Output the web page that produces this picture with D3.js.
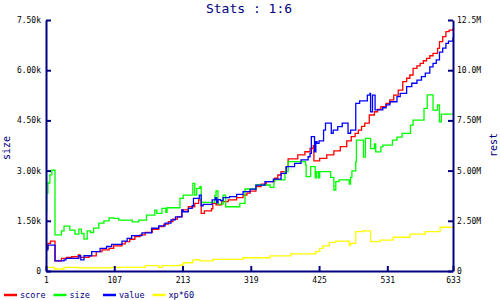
<!DOCTYPE html>
<html>
<head>
<meta charset="utf-8">
<script src="https://cdn.jsdelivr.net/npm/d3@7"></script>
<style>
  body { margin: 0; background: #fff; }
  text { font-family: "DejaVu Sans Mono", monospace; }
</style>
</head>
<body>
<script>
// tick values and labels
const xTicks = [1, 107, 213, 319, 425, 531, 633];
const leftTicks = [0, 1500, 3000, 4500, 6000, 7500];
const leftLabels = ['0', '1.50k', '3.00k', '4.50k', '6.00k', '7.50k'];
const rightTicks = [0, 2.5, 5, 7.5, 10, 12.5];   // millions
const rightLabels = ['0', '2.50M', '5.00M', '7.50M', '10.0M', '12.5M'];

const seriesNames = ['score', 'size', 'value', 'xp*60'];
const seriesColors = ['#ff0000', '#00ff00', '#0000ff', '#ffff00'];

// [index, value] - score/value/xp in millions (right axis), size on left axis
const score = [[1,1.13],[4,1.38],[8,1.49],[15,0.5],[25,0.63],[33,0.68],[41,0.71],[51,0.8],[54,0.68],[68,0.75],[79,0.96],[88,1.05],[99,1.13],[106,1.25],[119,1.35],[124,1.46],[131,1.58],[139,1.71],[147,1.8],[155,1.92],[166,2.08],[176,2.21],[184,2.33],[191,2.46],[198,2.58],[205,2.7],[212,3.04],[222,3.2],[232,3.37],[238,3.54],[242,2.87],[247,2.99],[258,3.1],[260,3.37],[265,3.3],[274,3.45],[284,3.54],[297,3.65],[307,3.78],[313,3.88],[318,3.98],[327,4.2],[335,4.32],[343,4.45],[356,4.62],[361,4.78],[366,4.95],[374,5.2],[377,5.58],[392,5.78],[403,5.94],[411,6.11],[416,6.24],[417,5.48],[426,5.61],[437,5.78],[448,5.98],[458,6.19],[468,6.48],[475,6.69],[481,6.85],[486,7.02],[491,7.2],[496,7.36],[503,7.77],[511,7.93],[516,8.05],[521,8.18],[529,8.35],[535,8.52],[541,8.76],[548,9.01],[555,9.43],[561,9.6],[566,9.76],[571,10.09],[577,10.22],[582,10.34],[587,10.47],[592,10.59],[597,10.72],[602,10.84],[609,11.09],[612,11.42],[617,11.67],[622,11.92],[627,12.0],[633,12.09]];

const size = [[1,1770],[2,2330],[4,2630],[7,2870],[10,3010],[15,1080],[25,1200],[29,1340],[38,1220],[46,1100],[52,1250],[56,1120],[60,950],[65,1200],[70,1150],[75,1280],[83,1430],[91,1500],[99,1590],[106,1570],[114,1520],[135,1470],[145,1520],[157,1670],[170,1820],[173,1720],[181,1870],[187,1750],[189,1890],[209,2170],[214,2270],[229,2620],[232,2270],[235,2470],[240,2520],[242,2050],[263,2250],[265,2390],[268,2000],[276,2270],[280,1920],[302,2020],[310,2450],[327,2570],[349,2500],[355,2720],[372,2970],[377,3270],[404,3170],[405,2820],[412,3120],[419,2780],[421,2970],[424,2780],[426,2970],[443,2800],[448,2420],[451,2670],[456,2720],[472,2600],[474,2800],[476,2990],[482,3270],[483,3910],[494,3400],[497,3960],[505,3660],[511,3800],[513,3560],[521,3710],[524,3760],[539,3910],[546,4000],[554,4110],[567,4360],[571,4510],[588,4860],[593,5260],[602,4810],[609,4960],[612,4460],[615,4690],[633,4690]];

const value = [[1,1.05],[4,1.29],[15,0.5],[29,0.55],[32,0.63],[52,0.76],[55,0.55],[60,0.76],[72,0.96],[85,1.13],[95,1.22],[103,1.33],[119,1.49],[127,1.62],[134,1.76],[150,1.9],[165,2.13],[176,2.25],[186,2.38],[195,2.55],[202,2.7],[212,3.04],[214,2.95],[222,3.12],[228,3.25],[230,3.62],[239,3.78],[242,3.25],[245,3.32],[259,3.54],[264,3.65],[266,3.4],[268,3.55],[272,3.5],[276,3.65],[286,3.7],[297,3.82],[307,3.95],[318,4.08],[327,4.28],[341,4.45],[354,4.58],[366,4.86],[374,5.2],[387,5.36],[397,5.53],[408,5.69],[411,5.86],[413,6.69],[418,5.94],[420,6.44],[422,6.36],[425,6.48],[432,7.02],[435,7.36],[444,6.86],[447,7.02],[454,7.19],[461,7.36],[470,6.86],[474,7.02],[482,8.35],[488,8.47],[500,8.76],[504,8.85],[505,7.93],[508,8.76],[512,8.02],[524,8.13],[529,8.27],[535,8.43],[546,8.68],[551,8.85],[561,9.18],[569,9.35],[577,9.51],[584,9.68],[590,9.85],[597,10.17],[602,10.34],[607,10.51],[612,10.9],[617,11.1],[622,11.34],[626,11.45],[633,11.64]];

const xp60 = [[1,0.18],[14,0.1],[29,0.18],[52,0.16],[103,0.18],[155,0.27],[176,0.18],[181,0.27],[209,0.3],[214,0.41],[229,0.55],[240,0.5],[260,0.58],[307,0.66],[349,0.75],[381,0.85],[420,0.96],[426,1.13],[431,1.25],[441,1.43],[451,1.49],[472,1.26],[474,1.38],[482,1.96],[493,2.0],[505,1.46],[520,1.54],[540,1.68],[566,1.84],[590,1.96],[613,2.18],[633,2.18]];

const allSeries = [
  { name: seriesNames[0], color: seriesColors[0], data: score, axis: 'right' },
  { name: seriesNames[1], color: seriesColors[1], data: size, axis: 'left' },
  { name: seriesNames[2], color: seriesColors[2], data: value, axis: 'right' },
  { name: seriesNames[3], color: seriesColors[3], data: xp60, axis: 'right' }
];

const navy = '#000080';

const svg = d3.select('body').append('svg')
    .attr('width', 500)
    .attr('height', 300);

const x = d3.scaleLinear().domain([1, 633]).range([46, 453]);
const yL = d3.scaleLinear().domain([0, 7500]).range([271, 20]);
const yR = d3.scaleLinear().domain([0, 12.5]).range([271, 20]);

// lines
allSeries.forEach(s => {
  const yS = s.axis === 'left' ? yL : yR;
  const line = d3.line()
      .x(d => x(d[0]))
      .y(d => yS(d[1]))
      .curve(d3.curveStepAfter);
  svg.append('path')
      .datum(s.data)
      .attr('fill', 'none')
      .attr('stroke', s.color)
      .attr('stroke-width', 1.3)
      .attr('d', line);
});

// axes
const styleAxis = g => {
  g.select('.domain').attr('stroke', navy).attr('stroke-width', 2);
  g.selectAll('.tick line').attr('stroke', navy).attr('stroke-width', 2);
  g.selectAll('.tick text')
      .attr('fill', '#000')
      .style('font-size', '8px')
      .style('font-family', '"DejaVu Sans Mono", monospace');
};

svg.append('g')
    .attr('transform', 'translate(46,0)')
    .call(d3.axisLeft(yL).tickValues(leftTicks)
      .tickFormat((d, i) => leftLabels[i])
      .tickSizeInner(-5).tickSizeOuter(0).tickPadding(5))
    .call(styleAxis);

svg.append('g')
    .attr('transform', 'translate(453,0)')
    .call(d3.axisRight(yR).tickValues(rightTicks)
      .tickFormat((d, i) => rightLabels[i])
      .tickSizeInner(-5).tickSizeOuter(0).tickPadding(4))
    .call(styleAxis);

svg.append('g')
    .attr('transform', 'translate(0,271)')
    .call(d3.axisBottom(x).tickValues(xTicks)
      .tickFormat(d => d)
      .tickSizeInner(-5).tickSizeOuter(0).tickPadding(6))
    .call(styleAxis);

// title
svg.append('text')
    .attr('x', 249)
    .attr('y', 13)
    .attr('text-anchor', 'middle')
    .attr('fill', navy)
    .style('font-size', '13px')
    .text('Stats : 1:6');

// axis titles
svg.append('text')
    .attr('transform', 'translate(10,148) rotate(-90)')
    .attr('text-anchor', 'middle')
    .attr('fill', navy)
    .style('font-size', '10px')
    .text('size');

svg.append('text')
    .attr('transform', 'translate(497,145) rotate(-90)')
    .attr('text-anchor', 'middle')
    .attr('fill', navy)
    .style('font-size', '10px')
    .text('rest');

// legend
const legend = svg.selectAll('.legend')
    .data(allSeries)
    .enter()
  .append('g')
    .attr('class', 'legend')
    .attr('transform', (d, i) => `translate(${4 + i * 49.5},0)`);

legend.append('line')
    .attr('x1', 0).attr('x2', 13)
    .attr('y1', 295).attr('y2', 295)
    .attr('stroke', d => d.color)
    .attr('stroke-width', 2.5);

legend.append('text')
    .attr('x', 16)
    .attr('y', 298)
    .attr('fill', navy)
    .style('font-size', '8.5px')
    .text(d => d.name);
</script>
</body>
</html>
